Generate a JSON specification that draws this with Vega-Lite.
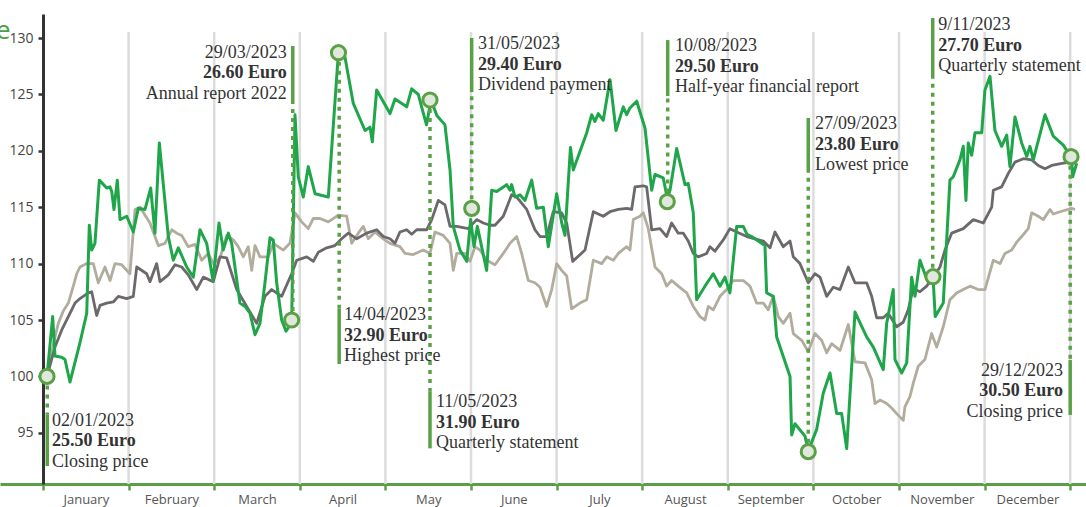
{
  "$schema": "https://vega.github.io/schema/vega-lite/v6.json",
  "width": 1086,
  "height": 470,
  "autosize": {"type": "none"},
  "padding": {"left": 0, "top": 14, "right": 0, "bottom": 23},
  "config": {"view": {"stroke": null}, "font": "Open Sans"},
  "datasets": {
    "grid": [{"g":1},{"g":2},{"g":3},{"g":4},{"g":5},{"g":6},{"g":7},{"g":8},{"g":9},{"g":10},{"g":11},{"g":12}],
    "green": [
      {"m":0.047,"v":100},{"m":0.113,"v":105.3},{"m":0.14,"v":101.8},{"m":0.218,"v":101.7},{"m":0.257,"v":101.5},{"m":0.315,"v":99.5},{"m":0.432,"v":103},{"m":0.511,"v":105.6},{"m":0.541,"v":113.4},{"m":0.569,"v":111.2},{"m":0.607,"v":111.8},{"m":0.658,"v":117.4},{"m":0.744,"v":116.7},{"m":0.783,"v":116.8},{"m":0.803,"v":116.4},{"m":0.829,"v":114.8},{"m":0.868,"v":117.4},{"m":0.9,"v":113.9},{"m":0.978,"v":114.2},{"m":1.055,"v":112.8},{"m":1.113,"v":114.9},{"m":1.192,"v":114.8},{"m":1.258,"v":116.7},{"m":1.308,"v":112.7},{"m":1.359,"v":120.7},{"m":1.464,"v":112.4},{"m":1.522,"v":110.3},{"m":1.581,"v":111.4},{"m":1.679,"v":109.7},{"m":1.756,"v":108.8},{"m":1.834,"v":113},{"m":1.912,"v":111.8},{"m":1.986,"v":108.5},{"m":2.056,"v":113.6},{"m":2.106,"v":111.2},{"m":2.165,"v":112.7},{"m":2.204,"v":111.8},{"m":2.301,"v":106.5},{"m":2.36,"v":106.2},{"m":2.418,"v":105.6},{"m":2.477,"v":103.7},{"m":2.535,"v":104.7},{"m":2.593,"v":108.3},{"m":2.652,"v":112.3},{"m":2.69,"v":112.1},{"m":2.73,"v":108.3},{"m":2.788,"v":105},{"m":2.839,"v":104},{"m":2.905,"v":104.8},{"m":2.944,"v":123.2},{"m":2.982,"v":117.7},{"m":3.041,"v":115.9},{"m":3.099,"v":118.6},{"m":3.178,"v":116.2},{"m":3.333,"v":115.9},{"m":3.45,"v":128.6},{"m":3.528,"v":128.3},{"m":3.625,"v":124.2},{"m":3.762,"v":121.8},{"m":3.82,"v":122.1},{"m":3.847,"v":120.8},{"m":3.898,"v":125.4},{"m":4.054,"v":123.3},{"m":4.112,"v":124.6},{"m":4.249,"v":123.9},{"m":4.307,"v":125.5},{"m":4.384,"v":125},{"m":4.48,"v":122.3},{"m":4.533,"v":124.5},{"m":4.603,"v":123.1},{"m":4.696,"v":122.3},{"m":4.755,"v":118.3},{"m":4.793,"v":113.3},{"m":4.871,"v":111.2},{"m":4.95,"v":110.2},{"m":4.996,"v":113.9},{"m":5.035,"v":111.5},{"m":5.074,"v":113.3},{"m":5.183,"v":109.4},{"m":5.242,"v":116.5},{"m":5.3,"v":116.4},{"m":5.417,"v":117},{"m":5.456,"v":116.5},{"m":5.475,"v":117},{"m":5.514,"v":115.9},{"m":5.572,"v":116.1},{"m":5.631,"v":115.6},{"m":5.709,"v":117.4},{"m":5.767,"v":114.9},{"m":5.845,"v":115},{"m":5.903,"v":111.5},{"m":6.001,"v":116.2},{"m":6.06,"v":113.6},{"m":6.098,"v":112.5},{"m":6.162,"v":120.3},{"m":6.195,"v":118.3},{"m":6.352,"v":121.6},{"m":6.41,"v":123.2},{"m":6.448,"v":122.6},{"m":6.487,"v":123.3},{"m":6.545,"v":122.7},{"m":6.624,"v":126.3},{"m":6.694,"v":121.8},{"m":6.779,"v":123.9},{"m":6.819,"v":123.2},{"m":6.857,"v":123.8},{"m":6.936,"v":124.4},{"m":7.033,"v":122},{"m":7.111,"v":116.5},{"m":7.149,"v":117.9},{"m":7.246,"v":117.6},{"m":7.293,"v":115.8},{"m":7.325,"v":116.5},{"m":7.403,"v":120.2},{"m":7.5,"v":117},{"m":7.538,"v":117.1},{"m":7.597,"v":114.5},{"m":7.636,"v":106.8},{"m":7.733,"v":108},{"m":7.83,"v":109.1},{"m":7.909,"v":108},{"m":7.967,"v":108.8},{"m":8.025,"v":107.4},{"m":8.104,"v":113.3},{"m":8.181,"v":113.3},{"m":8.224,"v":112.6},{"m":8.279,"v":112.4},{"m":8.434,"v":111.6},{"m":8.454,"v":107.4},{"m":8.531,"v":107.1},{"m":8.571,"v":103.5},{"m":8.727,"v":100},{"m":8.746,"v":94.8},{"m":8.785,"v":95.8},{"m":8.902,"v":94.7},{"m":8.94,"v":93.4},{"m":9.038,"v":95.3},{"m":9.115,"v":98.5},{"m":9.194,"v":100.3},{"m":9.272,"v":96.7},{"m":9.33,"v":96.7},{"m":9.389,"v":93.6},{"m":9.486,"v":105.7},{"m":9.622,"v":103.5},{"m":9.7,"v":102.6},{"m":9.816,"v":100.6},{"m":9.856,"v":104.7},{"m":9.933,"v":107.7},{"m":9.953,"v":101.5},{"m":10.031,"v":100.3},{"m":10.09,"v":101.2},{"m":10.148,"v":108.8},{"m":10.187,"v":107.1},{"m":10.245,"v":110.3},{"m":10.32,"v":108.7},{"m":10.397,"v":108.9},{"m":10.423,"v":105.3},{"m":10.517,"v":106.5},{"m":10.595,"v":117.4},{"m":10.634,"v":117.7},{"m":10.712,"v":119.2},{"m":10.751,"v":120.4},{"m":10.782,"v":115.6},{"m":10.809,"v":120.7},{"m":10.849,"v":119.6},{"m":10.888,"v":121.6},{"m":10.966,"v":121.6},{"m":11.004,"v":125.4},{"m":11.063,"v":126.6},{"m":11.121,"v":121.8},{"m":11.199,"v":120.4},{"m":11.258,"v":121.4},{"m":11.296,"v":118.6},{"m":11.355,"v":123},{"m":11.433,"v":120.7},{"m":11.492,"v":119.5},{"m":11.53,"v":120.4},{"m":11.569,"v":119.2},{"m":11.706,"v":123.2},{"m":11.802,"v":121.3},{"m":11.919,"v":120.5},{"m":12.015,"v":119.4},{"m":12.029,"v":117.7},{"m":12.076,"v":118.9}
    ],
    "dark": [
      {"m":0.047,"v":100},{"m":0.14,"v":102.6},{"m":0.218,"v":104.1},{"m":0.296,"v":105.3},{"m":0.374,"v":106.5},{"m":0.432,"v":106.9},{"m":0.529,"v":107.4},{"m":0.569,"v":107.5},{"m":0.627,"v":105.4},{"m":0.666,"v":106.3},{"m":0.744,"v":106.5},{"m":0.821,"v":106.6},{"m":0.88,"v":107.1},{"m":0.978,"v":106.9},{"m":1.055,"v":107.1},{"m":1.095,"v":109.7},{"m":1.211,"v":109.1},{"m":1.25,"v":108.4},{"m":1.328,"v":110},{"m":1.367,"v":108.4},{"m":1.464,"v":109},{"m":1.542,"v":109.9},{"m":1.62,"v":109.7},{"m":1.697,"v":109},{"m":1.796,"v":107.7},{"m":1.873,"v":108.8},{"m":1.989,"v":108.4},{"m":2.068,"v":110.6},{"m":2.146,"v":110.5},{"m":2.263,"v":107.7},{"m":2.38,"v":106.2},{"m":2.496,"v":104.7},{"m":2.593,"v":107.1},{"m":2.672,"v":107.7},{"m":2.788,"v":107.1},{"m":2.905,"v":109.1},{"m":2.964,"v":110.3},{"m":3.081,"v":110.6},{"m":3.158,"v":110.2},{"m":3.216,"v":111},{"m":3.314,"v":111.4},{"m":3.411,"v":111.6},{"m":3.489,"v":112.2},{"m":3.567,"v":112.7},{"m":3.665,"v":112.2},{"m":3.781,"v":112.7},{"m":3.898,"v":113},{"m":3.975,"v":112.4},{"m":4.054,"v":112.2},{"m":4.112,"v":111.8},{"m":4.17,"v":112.8},{"m":4.249,"v":113},{"m":4.307,"v":112.6},{"m":4.366,"v":113},{"m":4.482,"v":113},{"m":4.541,"v":113.9},{"m":4.618,"v":115.6},{"m":4.696,"v":115.2},{"m":4.755,"v":113.3},{"m":4.833,"v":113.3},{"m":4.968,"v":113.1},{"m":5.066,"v":113.9},{"m":5.144,"v":113.6},{"m":5.222,"v":113.4},{"m":5.28,"v":113.4},{"m":5.377,"v":114.2},{"m":5.475,"v":116.1},{"m":5.534,"v":115.9},{"m":5.651,"v":114.8},{"m":5.747,"v":113},{"m":5.806,"v":112.4},{"m":5.884,"v":112.4},{"m":5.961,"v":114.6},{"m":6.059,"v":114.5},{"m":6.118,"v":113.6},{"m":6.188,"v":110.2},{"m":6.332,"v":111.2},{"m":6.429,"v":114.6},{"m":6.545,"v":114.2},{"m":6.624,"v":114.6},{"m":6.721,"v":114.8},{"m":6.819,"v":114.9},{"m":6.877,"v":114.8},{"m":6.916,"v":116.8},{"m":7.013,"v":116.9},{"m":7.052,"v":116.8},{"m":7.111,"v":113},{"m":7.208,"v":113.1},{"m":7.286,"v":112.4},{"m":7.344,"v":113.6},{"m":7.421,"v":112.7},{"m":7.48,"v":112.7},{"m":7.538,"v":112},{"m":7.597,"v":110.9},{"m":7.655,"v":110.6},{"m":7.753,"v":110.9},{"m":7.792,"v":111.5},{"m":7.85,"v":111.1},{"m":7.947,"v":112.1},{"m":8.025,"v":113.1},{"m":8.104,"v":112.8},{"m":8.221,"v":112.4},{"m":8.318,"v":112.2},{"m":8.415,"v":112},{"m":8.493,"v":111.4},{"m":8.551,"v":112.8},{"m":8.648,"v":111.5},{"m":8.727,"v":112},{"m":8.765,"v":110.6},{"m":8.843,"v":110},{"m":8.94,"v":108.3},{"m":9.018,"v":109.1},{"m":9.077,"v":108.8},{"m":9.155,"v":107.1},{"m":9.232,"v":107.9},{"m":9.311,"v":107.7},{"m":9.408,"v":109.7},{"m":9.486,"v":108.3},{"m":9.622,"v":108.3},{"m":9.681,"v":107.1},{"m":9.739,"v":105.2},{"m":9.816,"v":105.2},{"m":9.874,"v":105.6},{"m":9.972,"v":104.4},{"m":10.049,"v":104.8},{"m":10.108,"v":105.9},{"m":10.166,"v":107.8},{"m":10.245,"v":107.5},{"m":10.323,"v":108},{"m":10.401,"v":108.8},{"m":10.479,"v":109.7},{"m":10.537,"v":111.2},{"m":10.615,"v":112.7},{"m":10.751,"v":113.1},{"m":10.868,"v":113.9},{"m":10.985,"v":113.6},{"m":11.083,"v":115},{"m":11.102,"v":116.5},{"m":11.199,"v":116.8},{"m":11.277,"v":118},{"m":11.355,"v":119},{"m":11.452,"v":119.3},{"m":11.55,"v":119.2},{"m":11.627,"v":118.7},{"m":11.705,"v":118.4},{"m":11.784,"v":118.7},{"m":11.919,"v":118.9},{"m":11.997,"v":119},{"m":12.056,"v":119}
    ],
    "light": [
      {"m":0.047,"v":100},{"m":0.14,"v":103.5},{"m":0.179,"v":104.7},{"m":0.237,"v":105.8},{"m":0.296,"v":106.5},{"m":0.354,"v":108},{"m":0.394,"v":109.1},{"m":0.432,"v":109.7},{"m":0.511,"v":110},{"m":0.588,"v":110},{"m":0.646,"v":108.3},{"m":0.724,"v":109.7},{"m":0.783,"v":108.5},{"m":0.841,"v":110},{"m":0.919,"v":109.9},{"m":1.016,"v":109.1},{"m":1.075,"v":114.8},{"m":1.133,"v":115},{"m":1.25,"v":113.6},{"m":1.347,"v":111.6},{"m":1.425,"v":111.8},{"m":1.503,"v":113},{"m":1.562,"v":112.7},{"m":1.62,"v":112.5},{"m":1.697,"v":111.5},{"m":1.776,"v":111.7},{"m":1.854,"v":110.3},{"m":1.931,"v":110.9},{"m":1.989,"v":110},{"m":2.068,"v":110.5},{"m":2.146,"v":112.5},{"m":2.223,"v":112.1},{"m":2.281,"v":111.5},{"m":2.34,"v":110.6},{"m":2.398,"v":111.5},{"m":2.438,"v":109.4},{"m":2.477,"v":111.6},{"m":2.535,"v":110.6},{"m":2.632,"v":110.6},{"m":2.69,"v":111.8},{"m":2.807,"v":111.2},{"m":2.885,"v":111.8},{"m":2.944,"v":114.5},{"m":3.022,"v":113.7},{"m":3.099,"v":113.1},{"m":3.158,"v":114},{"m":3.236,"v":114},{"m":3.333,"v":113.7},{"m":3.45,"v":114.3},{"m":3.548,"v":114.2},{"m":3.606,"v":111.8},{"m":3.683,"v":112.7},{"m":3.742,"v":113.3},{"m":3.8,"v":112.2},{"m":3.878,"v":112.8},{"m":3.975,"v":112.2},{"m":4.054,"v":111.8},{"m":4.17,"v":111.5},{"m":4.229,"v":110.9},{"m":4.326,"v":110.8},{"m":4.442,"v":111.2},{"m":4.521,"v":110.9},{"m":4.579,"v":112.8},{"m":4.676,"v":112.5},{"m":4.755,"v":111.8},{"m":4.793,"v":109.4},{"m":4.833,"v":110.9},{"m":4.93,"v":110.9},{"m":4.988,"v":110.2},{"m":5.047,"v":111.5},{"m":5.105,"v":111.2},{"m":5.183,"v":110.3},{"m":5.28,"v":109.9},{"m":5.377,"v":110.9},{"m":5.456,"v":111.8},{"m":5.534,"v":112.4},{"m":5.592,"v":110.9},{"m":5.669,"v":108.5},{"m":5.747,"v":108.3},{"m":5.806,"v":107.9},{"m":5.884,"v":106.2},{"m":5.943,"v":107.7},{"m":6.001,"v":110},{"m":6.059,"v":109.4},{"m":6.118,"v":108.9},{"m":6.176,"v":106},{"m":6.273,"v":106.5},{"m":6.352,"v":106.8},{"m":6.429,"v":110.3},{"m":6.527,"v":110},{"m":6.585,"v":110.6},{"m":6.663,"v":110.3},{"m":6.721,"v":110.9},{"m":6.819,"v":111.5},{"m":6.857,"v":111.2},{"m":6.896,"v":113.9},{"m":6.974,"v":114.2},{"m":7.013,"v":114.5},{"m":7.071,"v":113.1},{"m":7.149,"v":109.7},{"m":7.228,"v":109.1},{"m":7.286,"v":108},{"m":7.344,"v":108.5},{"m":7.421,"v":108},{"m":7.52,"v":107.4},{"m":7.597,"v":106.2},{"m":7.675,"v":105.3},{"m":7.733,"v":105},{"m":7.772,"v":106.2},{"m":7.83,"v":105.9},{"m":7.909,"v":107.1},{"m":7.987,"v":107.7},{"m":8.064,"v":108.5},{"m":8.181,"v":108.5},{"m":8.259,"v":108},{"m":8.337,"v":106.5},{"m":8.415,"v":106.5},{"m":8.473,"v":105.9},{"m":8.531,"v":107.1},{"m":8.59,"v":105.3},{"m":8.648,"v":104.7},{"m":8.727,"v":105.6},{"m":8.765,"v":103.8},{"m":8.863,"v":103.2},{"m":8.94,"v":102.2},{"m":9.018,"v":103.8},{"m":9.096,"v":103.2},{"m":9.155,"v":102.1},{"m":9.213,"v":102.9},{"m":9.311,"v":102.3},{"m":9.408,"v":104.6},{"m":9.486,"v":101.3},{"m":9.603,"v":101.2},{"m":9.681,"v":99.7},{"m":9.719,"v":97.6},{"m":9.778,"v":97.9},{"m":9.856,"v":97.6},{"m":9.914,"v":97.2},{"m":9.973,"v":96.7},{"m":10.05,"v":96.1},{"m":10.069,"v":97.3},{"m":10.128,"v":98.2},{"m":10.167,"v":99.4},{"m":10.225,"v":100.9},{"m":10.303,"v":101.5},{"m":10.381,"v":103.8},{"m":10.44,"v":102.6},{"m":10.517,"v":104.4},{"m":10.595,"v":106.8},{"m":10.673,"v":107.4},{"m":10.751,"v":107.7},{"m":10.829,"v":108},{"m":10.926,"v":107.7},{"m":11.004,"v":107.7},{"m":11.102,"v":110.3},{"m":11.18,"v":110},{"m":11.238,"v":110.9},{"m":11.316,"v":111.2},{"m":11.375,"v":111.9},{"m":11.433,"v":112.4},{"m":11.51,"v":113.1},{"m":11.55,"v":114.5},{"m":11.627,"v":114.2},{"m":11.686,"v":113.9},{"m":11.764,"v":114.8},{"m":11.802,"v":114.4},{"m":11.88,"v":114.6},{"m":12.017,"v":114.9},{"m":12.056,"v":114.8}
    ],
    "ann": [
      {"date":"02/01/2023","price":"25.50 Euro","desc":"Closing price","side":"left","m":0.047,"v":100,"bx":0.05,"d1":100,"d2":96.6,"b1":96.6,"b2":92.05,"tx":0.105,"ty":96.05},
      {"date":"29/03/2023","price":"26.60 Euro","desc":"Annual report 2022","side":"right","m":2.905,"v":105,"bx":2.918,"d1":105,"d2":124.5,"b1":129.29,"b2":124.5,"tx":2.847,"ty":128.7},
      {"date":"14/04/2023","price":"32.90 Euro","desc":"Highest price","side":"left","m":3.452,"v":128.7,"bx":3.46,"d1":128.7,"d2":105.98,"b1":105.98,"b2":101.1,"tx":3.516,"ty":105.4},
      {"date":"11/05/2023","price":"31.90 Euro","desc":"Quarterly statement","side":"left","m":4.521,"v":124.5,"bx":4.521,"d1":124.5,"d2":98.64,"b1":98.64,"b2":93.62,"tx":4.591,"ty":97.69},
      {"date":"31/05/2023","price":"29.40 Euro","desc":"Dividend payment","side":"left","m":5.008,"v":114.9,"bx":5.008,"d1":114.9,"d2":125.2,"b1":130,"b2":125.2,"tx":5.082,"ty":129.47},
      {"date":"10/08/2023","price":"29.50 Euro","desc":"Half-year financial report","side":"left","m":7.293,"v":115.5,"bx":7.298,"d1":115.5,"d2":124.86,"b1":129.82,"b2":124.86,"tx":7.383,"ty":129.25},
      {"date":"27/09/2023","price":"23.80 Euro","desc":"Lowest price","side":"left","m":8.94,"v":93.33,"bx":8.94,"d1":93.33,"d2":118.12,"b1":122.91,"b2":118.12,"tx":9.019,"ty":122.36},
      {"date":"9/11/2023","price":"27.70 Euro","desc":"Quarterly statement","side":"left","m":10.397,"v":108.84,"bx":10.394,"d1":108.84,"d2":126.63,"b1":131.77,"b2":126.63,"tx":10.458,"ty":131.15},
      {"date":"29/12/2023","price":"30.50 Euro","desc":"Closing price","side":"right","m":12.01,"v":119.48,"bx":12.0,"d1":119.48,"d2":101.45,"b1":101.45,"b2":96.58,"tx":11.916,"ty":100.48}
    ]
  },
  "layer": [
    {
      "data": {"name": "grid"},
      "mark": {"type": "rule", "color": "#dcdcdc", "strokeWidth": 2.5},
      "encoding": {
        "x": {"field": "g", "type": "quantitative",
          "scale": {"domain": [-0.5023, 12.1846], "nice": false, "zero": false},
          "axis": {"values": [0,1,2,3,4,5,6,7,8,9,10,11,12], "title": null, "grid": false,
            "labelExpr": "['January','February','March','April','May','June','July','August','September','October','November','December',''][datum.value]",
            "labelOffset": 42.8, "labelFlush": false, "labelOverlap": false, "labelBound": false,
            "domainColor": "#5a9f47", "domainWidth": 3, "tickColor": "#5a9f47", "tickWidth": 2.5, "tickSize": 6,
            "labelFont": "Open Sans", "labelFontSize": 13, "labelColor": "#555555", "labelPadding": 3}},
        "y": {"datum": 90.46, "type": "quantitative",
          "scale": {"domain": [90.46, 132.13], "nice": false, "zero": false},
          "axis": {"values": [95,100,105,110,115,120,125,130], "grid": false, "offset": -43,
            "domainColor": "#333333", "domainWidth": 3, "tickColor": "#333333", "tickWidth": 2.5, "tickSize": 5,
            "labelFont": "Open Sans", "labelFontSize": 14, "labelColor": "#444444", "labelPadding": 5,
            "title": "Share price", "titleAngle": 0, "titleAlign": "right", "titleBaseline": "alphabetic",
            "titleX": -33, "titleY": 24, "titleColor": "#4a9e3f", "titleFont": "Open Sans", "titleFontSize": 26, "titleFontWeight": "normal"}},
        "y2": {"datum": 130.53}
      }
    },
    {
      "data": {"name": "light"},
      "mark": {"type": "line", "color": "#b2ac9d", "strokeWidth": 2.8, "strokeJoin": "round"},
      "encoding": {
        "x": {"field": "m", "type": "quantitative"},
        "y": {"field": "v", "type": "quantitative"}
      }
    },
    {
      "data": {"name": "dark"},
      "mark": {"type": "line", "color": "#6c686c", "strokeWidth": 2.8, "strokeJoin": "round"},
      "encoding": {
        "x": {"field": "m", "type": "quantitative"},
        "y": {"field": "v", "type": "quantitative"}
      }
    },
    {
      "data": {"name": "green"},
      "mark": {"type": "line", "color": "#1fa64a", "strokeWidth": 3, "strokeJoin": "round"},
      "encoding": {
        "x": {"field": "m", "type": "quantitative"},
        "y": {"field": "v", "type": "quantitative"}
      }
    },
    {
      "data": {"name": "ann"},
      "layer": [
        {
          "mark": {"type": "rule", "color": "#5aa047", "strokeWidth": 3.5, "strokeDash": [4, 5]},
          "encoding": {
            "x": {"field": "bx", "type": "quantitative"},
            "y": {"field": "d1", "type": "quantitative"},
            "y2": {"field": "d2"}
          }
        },
        {
          "mark": {"type": "rule", "color": "#5aa047", "strokeWidth": 3.5},
          "encoding": {
            "x": {"field": "bx", "type": "quantitative"},
            "y": {"field": "b1", "type": "quantitative"},
            "y2": {"field": "b2"}
          }
        },
        {
          "mark": {"type": "point", "filled": true, "fill": "#dfe8da", "stroke": "#5aa047", "strokeWidth": 3, "size": 200, "opacity": 1, "shape": "circle"},
          "encoding": {
            "x": {"field": "m", "type": "quantitative"},
            "y": {"field": "v", "type": "quantitative"}
          }
        },
        {
          "transform": [{"filter": "datum.side == 'left'"}],
          "layer": [
            {"mark": {"type": "text", "align": "left", "baseline": "middle", "font": "Liberation Serif", "fontSize": 18, "color": "#333333"},
             "encoding": {"x": {"field": "tx", "type": "quantitative"}, "y": {"field": "ty", "type": "quantitative"}, "text": {"field": "date"}}},
            {"mark": {"type": "text", "align": "left", "baseline": "middle", "font": "Liberation Serif", "fontSize": 18, "fontWeight": "bold", "color": "#333333", "dy": 20.5},
             "encoding": {"x": {"field": "tx", "type": "quantitative"}, "y": {"field": "ty", "type": "quantitative"}, "text": {"field": "price"}}},
            {"mark": {"type": "text", "align": "left", "baseline": "middle", "font": "Liberation Serif", "fontSize": 18, "color": "#333333", "dy": 41},
             "encoding": {"x": {"field": "tx", "type": "quantitative"}, "y": {"field": "ty", "type": "quantitative"}, "text": {"field": "desc"}}}
          ]
        },
        {
          "transform": [{"filter": "datum.side == 'right'"}],
          "layer": [
            {"mark": {"type": "text", "align": "right", "baseline": "middle", "font": "Liberation Serif", "fontSize": 18, "color": "#333333"},
             "encoding": {"x": {"field": "tx", "type": "quantitative"}, "y": {"field": "ty", "type": "quantitative"}, "text": {"field": "date"}}},
            {"mark": {"type": "text", "align": "right", "baseline": "middle", "font": "Liberation Serif", "fontSize": 18, "fontWeight": "bold", "color": "#333333", "dy": 20.5},
             "encoding": {"x": {"field": "tx", "type": "quantitative"}, "y": {"field": "ty", "type": "quantitative"}, "text": {"field": "price"}}},
            {"mark": {"type": "text", "align": "right", "baseline": "middle", "font": "Liberation Serif", "fontSize": 18, "color": "#333333", "dy": 41},
             "encoding": {"x": {"field": "tx", "type": "quantitative"}, "y": {"field": "ty", "type": "quantitative"}, "text": {"field": "desc"}}}
          ]
        }
      ]
    }
  ]
}
